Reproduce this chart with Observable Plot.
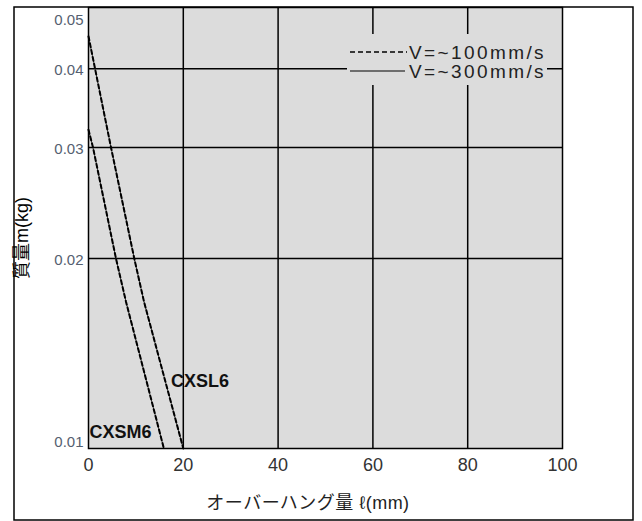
<!DOCTYPE html>
<html>
<head>
<meta charset="utf-8">
<script src="https://cdn.jsdelivr.net/npm/d3@7"></script>
<script src="https://cdn.jsdelivr.net/npm/@observablehq/plot@0.6"></script>
<style>
html,body{margin:0;padding:0;background:#fff;}
svg{display:block;}
</style>
</head>
<body>
<div id="chart"></div>
<script>
// Data
const cxsl6X = [0, 4.75, 9.66, 11.7, 20];
const cxsl6Y = [0.045, 0.03, 0.02, 0.0171, 0.01];
const cxsm6X = [0, 0.95, 5.8, 7.9, 15.9];
const cxsm6Y = [0.032, 0.03, 0.02, 0.0171, 0.01];
const seriesNames = ["CXSL6", "CXSM6"];
const labelX = [17.4, 0.2];
const labelY = [0.0128, 0.0106];
const xTicks = [0, 20, 40, 60, 80, 100];
const yTicks = [0.01, 0.02, 0.03, 0.04, 0.05];
const legendLabels = ["V=~100mm/s", "V=~300mm/s"];
const xTitle = "オーバーハング量 ℓ(mm)";
const yTitle = "質量m(kg)";

const lines = [
  ...cxsl6X.map((x, i) => ({series: seriesNames[0], x, y: cxsl6Y[i]})),
  ...cxsm6X.map((x, i) => ({series: seriesNames[1], x, y: cxsm6Y[i]}))
];
const labels = seriesNames.map((s, i) => ({s, x: labelX[i], y: labelY[i]}));
const midY = yTicks.slice(1, -1);

const font = "'Liberation Sans', Arial, 'Noto Sans CJK JP', sans-serif";
const tickFill = "#556070";

const chart = Plot.plot({
  width: 642,
  height: 521,
  marginLeft: 88,
  marginRight: 80,
  marginTop: 7,
  marginBottom: 73,
  style: {fontFamily: font, background: "#fff", overflow: "visible"},
  x: {domain: [0, 100]},
  y: {type: "log", domain: [0.01, 0.05]},
  marks: [
    Plot.frame({fill: "#dcdcdc"}),
    Plot.gridX(xTicks.slice(1, -1), {stroke: "#000", strokeOpacity: 1, strokeWidth: 1.5}),
    Plot.gridY(midY, {stroke: "#000", strokeOpacity: 1, strokeWidth: 1.5}),
    Plot.line(lines, {x: "x", y: "y", z: "series", stroke: "#222", strokeWidth: 0.8}),
    Plot.line(lines, {x: "x", y: "y", z: "series", stroke: "#000", strokeWidth: 2, strokeDasharray: "4,3"}),
    Plot.text(labels, {x: "x", y: "y", text: "s", textAnchor: "start", fontWeight: "bold", fontSize: 18, fill: "#111", letterSpacing: -0.5}),
    Plot.axisX(xTicks, {tickSize: 0, tickPadding: 10, fontSize: 18, fill: "#333", label: null}),
    Plot.axisY(midY, {tickSize: 0, tickPadding: 5, fontSize: 15, fill: tickFill, dy: 2, tickFormat: d => d.toFixed(2), label: null}),
    Plot.text([yTicks[0]], {y: d => d, frameAnchor: "left", dx: -5, dy: -6, textAnchor: "end", fontSize: 15, fill: tickFill, text: d => d.toFixed(2)}),
    Plot.text([yTicks[yTicks.length - 1]], {y: d => d, frameAnchor: "left", dx: -5, dy: 13, textAnchor: "end", fontSize: 15, fill: tickFill, text: d => d.toFixed(2)}),
    Plot.frame({stroke: "#000", strokeWidth: 1.5})
  ]
});

document.getElementById("chart").appendChild(chart);

const svg = d3.select(chart);

// x-axis title
svg.append("text")
  .attr("x", 308).attr("y", 503).attr("dy", "0.35em")
  .attr("text-anchor", "middle")
  .attr("font-size", 18)
  .attr("letter-spacing", 0.5)
  .attr("fill", "#222")
  .attr("font-family", font)
  .text(xTitle);

// y-axis title
svg.append("text")
  .attr("transform", "translate(22,238) rotate(-90)")
  .attr("text-anchor", "middle")
  .attr("dy", "0.35em")
  .attr("font-size", 18)
  .attr("fill", "#000")
  .attr("font-family", font)
  .text(yTitle);

// legend box
const lg = svg.append("g").attr("font-family", font).attr("text-anchor", "start");
lg.append("rect").attr("x", 347).attr("y", 34).attr("width", 200).attr("height", 51).attr("fill", "#dcdcdc");
lg.append("line").attr("x1", 350).attr("x2", 407).attr("y1", 52).attr("y2", 52)
  .attr("stroke", "#000").attr("stroke-width", 1.3).attr("stroke-dasharray", "5,3");
lg.append("line").attr("x1", 350).attr("x2", 405).attr("y1", 71).attr("y2", 71)
  .attr("stroke", "#000").attr("stroke-width", 1.2);
legendLabels.forEach((t, i) => {
  lg.append("text").attr("x", 409).attr("y", 52 + i * 19).attr("dy", "0.35em")
    .attr("text-anchor", "start")
    .attr("letter-spacing", 2.4)
    .attr("font-size", 19).attr("fill", "#222").text(t);
});

// outer frame
svg.append("rect").attr("x", 14).attr("y", 7).attr("width", 619).attr("height", 513)
  .attr("fill", "none").attr("stroke", "#000").attr("stroke-width", 1.5);
</script>
</body>
</html>
